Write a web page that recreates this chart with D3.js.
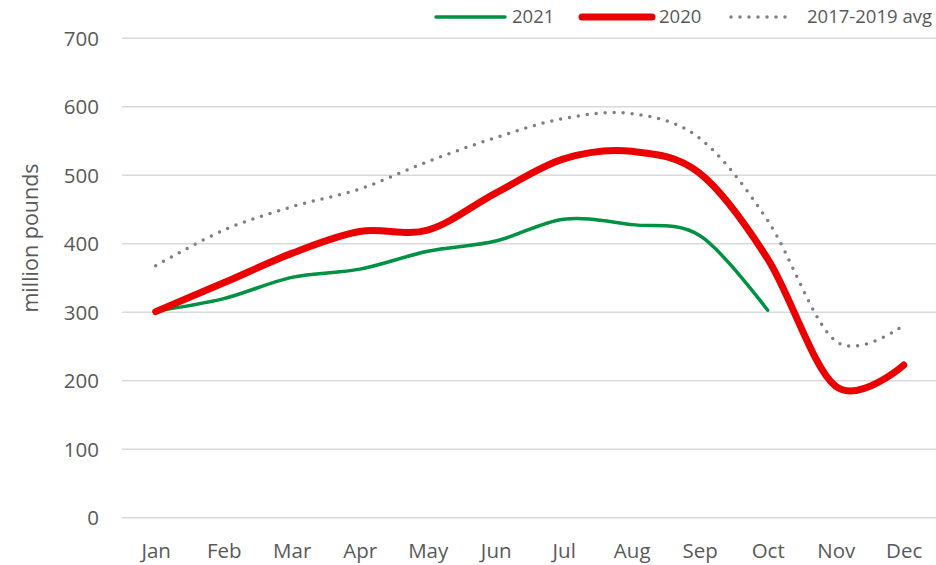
<!DOCTYPE html>
<html>
<head>
<meta charset="utf-8">
<script src="https://cdn.jsdelivr.net/npm/d3@7"></script>
<style>
  body { margin: 0; background: #fff; }
  svg { display: block; font-family: "Open Sans", sans-serif; }
  .axis text { fill: #595959; font-size: 20.5px; font-family: "Open Sans", sans-serif; }
  .legend text { fill: #595959; font-size: 18.5px; }
</style>
</head>
<body>
<div id="root"></div>
<script>
const WIDTH = 936;
const HEIGHT = 565;

const months = ['Jan', 'Feb', 'Mar', 'Apr', 'May', 'Jun', 'Jul', 'Aug', 'Sep', 'Oct', 'Nov', 'Dec'];
const yTicks = [0, 100, 200, 300, 400, 500, 600, 700];
const v2021 = [302, 320, 351, 363, 389, 404, 436, 428, 412, 303];
const v2020 = [301, 343, 386, 418, 420, 474, 524, 535, 503, 378, 192, 223];
const vAvg = [368, 420, 454, 480, 520, 555, 583, 590, 554, 434, 258, 281];

const series = [
    { name: '2021', values: v2021, color: '#009143', width: 3.5, dash: null },
    { name: '2020', values: v2020, color: '#ea0000', width: 7, dash: null },
    { name: '2017-2019 avg', values: vAvg, color: '#7f7f7f', width: 3.5, dash: '0,9' }
];

const x = d3.scalePoint().domain(months).range([155.7, 903.7]);
const y = d3.scaleLinear().domain([0, 700]).range([517.8, 38.3]);

const svg = d3.select('#root').append('svg')
    .attr('width', WIDTH)
    .attr('height', HEIGHT);

// gridlines
svg.append('g')
    .selectAll('line')
    .data(yTicks)
    .enter().append('line')
        .attr('x1', 122)
        .attr('x2', 936)
        .attr('y1', d => y(d))
        .attr('y2', d => y(d))
        .attr('stroke', '#d9d9d9')
        .attr('stroke-width', 1.5);

const yAxis = d3.axisLeft(y).tickValues(yTicks).tickSize(0).tickPadding(0);
svg.append('g')
    .classed('axis', true)
    .attr('transform', 'translate(99, 0)')
    .call(yAxis)
    .call(g => g.select('.domain').remove())
    .selectAll('text')
        .attr('dy', '0.35em');

const xAxis = d3.axisBottom(x).tickSize(0).tickPadding(0);
svg.append('g')
    .classed('axis', true)
    .call(xAxis)
    .call(g => g.select('.domain').remove())
    .selectAll('text')
        .attr('y', 557.5)
        .attr('dy', null);

svg.append('text')
    .attr('transform', 'translate(38, 238) rotate(-90)')
    .attr('text-anchor', 'middle')
    .style('font-size', '21.5px')
    .style('fill', '#595959')
    .text('million pounds');

const line = d3.line()
    .x((d, i) => x(months[i]))
    .y(d => y(d))
    .curve(d3.curveCatmullRom.alpha(0));

// draw avg first, then 2021, then 2020 on top
[series[2], series[0], series[1]].forEach(s => {
    svg.append('path')
        .datum(s.values)
        .attr('d', line)
        .attr('fill', 'none')
        .attr('stroke', s.color)
        .attr('stroke-width', s.width)
        .attr('stroke-linecap', 'round')
        .attr('stroke-linejoin', 'round')
        .attr('stroke-dasharray', s.dash);
});

// legend
const legendPos = [
    { x1: 436, x2: 505, tx: 512 },
    { x1: 582, x2: 652, tx: 659 },
    { x1: 731, x2: 790, tx: 807 }
];
const legend = svg.selectAll('.legend')
    .data(series)
    .enter().append('g')
        .attr('class', 'legend');

legend.append('line')
    .attr('x1', (d, i) => legendPos[i].x1)
    .attr('x2', (d, i) => legendPos[i].x2)
    .attr('y1', 17)
    .attr('y2', 17)
    .attr('stroke', d => d.color)
    .attr('stroke-width', d => d.width)
    .attr('stroke-linecap', 'round')
    .attr('stroke-dasharray', d => d.dash);

legend.append('text')
    .attr('x', (d, i) => legendPos[i].tx)
    .attr('y', 17)
    .attr('dy', '0.35em')
    .text(d => d.name);
</script>
</body>
</html>
